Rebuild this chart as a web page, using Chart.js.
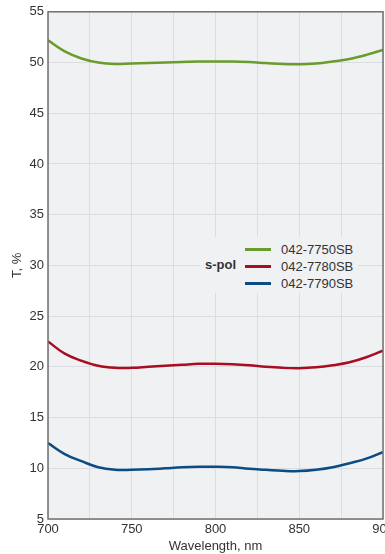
<!DOCTYPE html>
<html>
<head>
<meta charset="utf-8">
<script src="https://cdn.jsdelivr.net/npm/chart.js@4.4.0/dist/chart.umd.min.js"></script>
<style>
  html, body { margin: 0; padding: 0; background: #fff; overflow: hidden; }
  #wrap { position: relative; width: 385px; height: 554px; }
  #legend {
    position: absolute; left: 200px; top: 237px; width: 158px; height: 56px;
    background: #f0f1f3; font-family: "Liberation Sans", Arial, sans-serif;
    font-size: 13px; color: #333;
  }
  #legend .title { position: absolute; left: 5px; top: 20px; font-weight: bold; }
  #legend ul { list-style: none; margin: 0; padding: 0; position: absolute; left: 45px; top: 4px; }
  #legend li { display: flex; align-items: center; height: 17px; }
  #legend .box { display: inline-block; width: 26px; height: 3px; margin-right: 10px; }
</style>
</head>
<body>
<div id="wrap">
  <canvas id="chart" width="385" height="554"></canvas>
  <div id="legend"><span class="title">s-pol</span><ul id="legendList"></ul></div>
</div>
<script>
const wavelengths = [700, 710, 720, 730, 740, 750, 760, 770, 780, 790, 800,
  810, 820, 830, 840, 850, 860, 870, 880, 890, 900];
const seriesNames = ['042-7750SB', '042-7780SB', '042-7790SB'];
const t7750 = [52.2, 51.1, 50.4, 50.0, 49.85, 49.9, 49.95, 50.0, 50.05, 50.1, 50.1,
  50.1, 50.05, 49.95, 49.85, 49.83, 49.9, 50.1, 50.35, 50.75, 51.25];
const t7780 = [22.5, 21.3, 20.6, 20.1, 19.9, 19.9, 20.0, 20.1, 20.2, 20.3, 20.3,
  20.25, 20.15, 20.0, 19.9, 19.87, 19.95, 20.15, 20.45, 20.95, 21.6];
const t7790 = [12.5, 11.4, 10.7, 10.1, 9.85, 9.85, 9.9, 10.0, 10.1, 10.15, 10.15,
  10.1, 9.95, 9.85, 9.75, 9.72, 9.85, 10.1, 10.5, 10.95, 11.6];
const colors = ['#6a9c2c', '#a80d22', '#0b4c84'];

const font = { family: '"Liberation Sans", Arial, sans-serif', size: 13 };

function toPoints(ys) {
  return wavelengths.map((x, i) => ({ x, y: ys[i] }));
}

const data = {
  datasets: [t7750, t7780, t7790].map((ys, i) => ({
    label: seriesNames[i],
    data: toPoints(ys),
    borderColor: colors[i],
    backgroundColor: colors[i],
    borderWidth: 2.5,
    pointRadius: 0,
    tension: 0.4,
  })),
};

const plotBg = {
  id: 'plotBg',
  beforeDraw(c) {
    const { ctx, chartArea: a } = c;
    ctx.save();
    ctx.fillStyle = '#f0f1f3';
    ctx.fillRect(a.left, a.top, a.right - a.left, a.bottom - a.top);
    ctx.restore();
  },
  afterDraw(c) {
    const { ctx, chartArea: a } = c;
    ctx.save();
    ctx.strokeStyle = '#707070';
    ctx.lineWidth = 1.5;
    ctx.strokeRect(a.left, a.top, a.right - a.left, a.bottom - a.top);
    ctx.restore();
  },
};

const htmlLegend = {
  id: 'htmlLegend',
  afterUpdate(c) {
    const ul = document.getElementById('legendList');
    while (ul.firstChild) ul.firstChild.remove();
    c.data.datasets.forEach((ds) => {
      const li = document.createElement('li');
      const box = document.createElement('span');
      box.className = 'box';
      box.style.background = ds.borderColor;
      li.appendChild(box);
      li.appendChild(document.createTextNode(ds.label));
      ul.appendChild(li);
    });
  },
};

new Chart(document.getElementById('chart'), {
  type: 'line',
  data,
  options: {
    responsive: false,
    animation: false,
    layout: { padding: { top: 10, right: 2, left: 0, bottom: 0 } },
    plugins: { legend: { display: false }, tooltip: { enabled: false } },
    scales: {
      x: {
        type: 'linear',
        min: 700,
        max: 900,
        ticks: {
          stepSize: 25,
          padding: 3,
          color: '#333',
          font,
          maxRotation: 0,
          autoSkip: false,
          callback: (v) => (v % 50 === 0 ? String(v) : ''),
        },
        grid: { color: '#dcdde0', drawTicks: false },
        border: { display: false },
        title: { display: true, text: 'Wavelength, nm', color: '#333', font, padding: { top: 1, bottom: 0 } },
        afterFit(axis) { axis.paddingRight = 0; axis.paddingLeft = 0; axis.height = 35; },
      },
      y: {
        min: 5,
        max: 55,
        ticks: { stepSize: 5, padding: 4, color: '#333', font },
        grid: { color: '#dcdde0', drawTicks: false },
        border: { display: false },
        title: { display: true, text: 'T, %', color: '#333', font, padding: { top: 10, bottom: 0 } },
        afterFit(axis) { axis.width = 48; },
      },
    },
  },
  plugins: [plotBg, htmlLegend],
});
</script>
</body>
</html>
